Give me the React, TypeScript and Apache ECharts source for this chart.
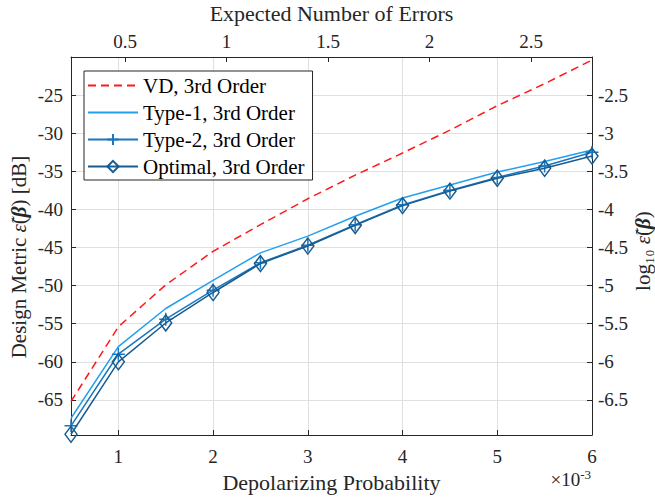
import React, { useEffect, useRef } from "react";
import * as echarts from "echarts";

const probability = [0.5, 1, 1.5, 2, 2.5, 3, 3.5, 4, 4.5, 5, 5.5, 6];
const vdValues = [-65.2, -55.4, -49.9, -45.5, -42.0, -38.6, -35.5, -32.6, -29.6, -26.4, -23.5, -20.4];
const type1Values = [-67.4, -58.0, -53.0, -49.3, -45.7, -43.5, -40.9, -38.5, -36.8, -35.1, -33.7, -32.2];
const type2Values = [-68.4, -59.0, -54.4, -50.6, -47.0, -44.7, -42.0, -39.4, -37.5, -35.8, -34.3, -32.5];
const optimalValues = [-69.5, -60.0, -54.9, -50.9, -47.1, -44.8, -42.1, -39.5, -37.6, -35.9, -34.6, -33.0];

const bottomTicks = [1, 2, 3, 4, 5, 6];
const topTicks = [0.5, 1, 1.5, 2, 2.5];
const leftTicks = [-65, -60, -55, -50, -45, -40, -35, -30, -25];
const rightTicks = [-6.5, -6, -5.5, -5, -4.5, -4, -3.5, -3, -2.5];

const seriesNames = ["VD, 3rd Order", "Type-1, 3rd Order", "Type-2, 3rd Order", "Optimal, 3rd Order"];

const errorsPerUnit = 0.4667; // expected errors per 1e-3 depolarizing probability
const xMin = 0.5;
const xMax = 6;
const yMin = -69.6;
const yMax = -20;

const FONT = "Liberation Serif";
const AX = "#262626";
const TICK_FS = 19;
const TITLE_FS = 21;
const XTITLE_FS = 22;

export default function App() {
  const ref = useRef<HTMLDivElement>(null);
  useEffect(() => {
    if (!ref.current) return;
    const chart = echarts.init(ref.current, undefined, { renderer: "svg" });
    const toPairs = (vals: number[]) => probability.map((x, i) => [x, vals[i]]);
    const tickLabel = { fontFamily: FONT, fontSize: TICK_FS, color: AX };
    const nameRich = {
      it: { fontFamily: FONT, fontSize: TITLE_FS, fontStyle: "italic", color: AX },
      bi: { fontFamily: FONT, fontSize: TITLE_FS, fontStyle: "italic", fontWeight: "bold", color: AX },
    };
    chart.setOption({
      animation: false,
      backgroundColor: "#ffffff",
      textStyle: { fontFamily: FONT },
      grid: { left: 71, right: 63, top: 57, bottom: 62, containLabel: false, outerBoundsMode: "none" },
      legend: {
        left: 84,
        top: 71,
        orient: "vertical",
        data: [
          { name: seriesNames[0], itemStyle: { opacity: 0 } },
          { name: seriesNames[1], itemStyle: { opacity: 0 } },
          { name: seriesNames[2] },
          { name: seriesNames[3] },
        ],
        itemWidth: 50,
        itemHeight: 14,
        itemGap: 6,
        padding: [4, 8, 3, 3],
        borderColor: AX,
        borderWidth: 1,
        borderRadius: 0,
        backgroundColor: "#ffffff",
        textStyle: { fontFamily: FONT, fontSize: 21, color: "#000", lineHeight: 21 },
        selectedMode: false,
      },
      xAxis: [
        {
          type: "value",
          position: "bottom",
          min: xMin,
          max: xMax,
          name: "Depolarizing Probability",
          nameLocation: "middle",
          nameGap: 36,
          nameMoveOverlap: false,
          nameTextStyle: { fontFamily: FONT, fontSize: XTITLE_FS, color: AX },
          axisLine: { show: true, onZero: false, lineStyle: { color: AX, width: 1 } },
          axisTick: { show: true, inside: true, length: 5, customValues: bottomTicks, lineStyle: { color: AX } },
          axisLabel: { ...tickLabel, margin: 12, customValues: bottomTicks },
          splitLine: { show: true, lineStyle: { color: "#dfdfdf", width: 1 } },
        },
        {
          type: "value",
          position: "top",
          min: xMin * errorsPerUnit,
          max: xMax * errorsPerUnit,
          name: "Expected Number of Errors",
          nameLocation: "middle",
          nameGap: 33,
          nameMoveOverlap: false,
          nameTextStyle: { fontFamily: FONT, fontSize: XTITLE_FS, color: AX },
          axisLine: { show: true, onZero: false, lineStyle: { color: AX, width: 1 } },
          axisTick: { show: true, inside: true, length: 5, customValues: topTicks, lineStyle: { color: AX } },
          axisLabel: { ...tickLabel, margin: 6, customValues: topTicks },
          splitLine: { show: false },
        },
      ],
      yAxis: [
        {
          type: "value",
          position: "left",
          min: yMin,
          max: yMax,
          name: "Design Metric {it|ε̃}({bi|β}) [dB]",
          nameLocation: "middle",
          nameGap: 42,
          nameRotate: 90,
          nameMoveOverlap: false,
          nameTextStyle: { fontFamily: FONT, fontSize: TITLE_FS, color: AX, rich: nameRich, padding: [0, 22, 0, 0] },
          axisLine: { show: true, onZero: false, lineStyle: { color: AX, width: 1 } },
          axisTick: { show: true, inside: true, length: 5, customValues: leftTicks, lineStyle: { color: AX } },
          axisLabel: { ...tickLabel, margin: 8, customValues: leftTicks },
          splitLine: { show: true, lineStyle: { color: "#dfdfdf", width: 1 } },
        },
        {
          type: "value",
          position: "right",
          min: yMin / 10,
          max: yMax / 10,
          name: "log₁₀ {it|ε̃}({bi|β})",
          nameLocation: "middle",
          nameGap: 40,
          nameRotate: 90,
          nameMoveOverlap: false,
          nameTextStyle: { fontFamily: FONT, fontSize: TITLE_FS, color: AX, rich: nameRich, padding: [0, 10, 0, 0] },
          axisLine: { show: true, onZero: false, lineStyle: { color: AX, width: 1 } },
          axisTick: { show: true, inside: true, length: 5, customValues: rightTicks, lineStyle: { color: AX } },
          axisLabel: { ...tickLabel, margin: 6, customValues: rightTicks },
          splitLine: { show: false },
        },
      ],
      graphic: [
        {
          type: "text",
          right: 64,
          top: 468,
          style: {
            text: "×10{sup|-3}",
            fontFamily: FONT,
            fontSize: 19,
            fill: AX,
            rich: { sup: { fontFamily: FONT, fontSize: 13, fill: AX, verticalAlign: "top", padding: [0, 0, 9, 0] } },
          },
        },
      ],
      series: [
        {
          name: seriesNames[0],
          type: "line",
          data: toPairs(vdValues),
          symbol: "none",
          lineStyle: { color: "#ff1a1a", width: 1.5, type: [8, 5] },
          itemStyle: { color: "#ff1a1a" },
          z: 2,
        },
        {
          name: seriesNames[1],
          type: "line",
          data: toPairs(type1Values),
          symbol: "none",
          lineStyle: { color: "#22a0ee", width: 1.5 },
          itemStyle: { color: "#22a0ee" },
          z: 3,
        },
        {
          name: seriesNames[2],
          type: "line",
          data: toPairs(type2Values),
          symbol: "path://M0,-10L0,10M-10,0L10,0",
          symbolSize: 13,
          showAllSymbol: true,
          lineStyle: { color: "#1b76bd", width: 1.5 },
          itemStyle: { color: "none", borderColor: "#1b76bd", borderWidth: 1.5 },
          z: 4,
        },
        {
          name: seriesNames[3],
          type: "line",
          data: toPairs(optimalValues),
          symbol: "diamond",
          symbolSize: [12, 16],
          showAllSymbol: true,
          lineStyle: { color: "#175c91", width: 1.5 },
          itemStyle: { color: "none", borderColor: "#175c91", borderWidth: 1.5 },
          z: 5,
        },
      ],
    });
    return () => chart.dispose();
  }, []);
  return <div ref={ref} style={{ position: "fixed", left: 0, top: 0, width: 655, height: 497 }} />;
}
